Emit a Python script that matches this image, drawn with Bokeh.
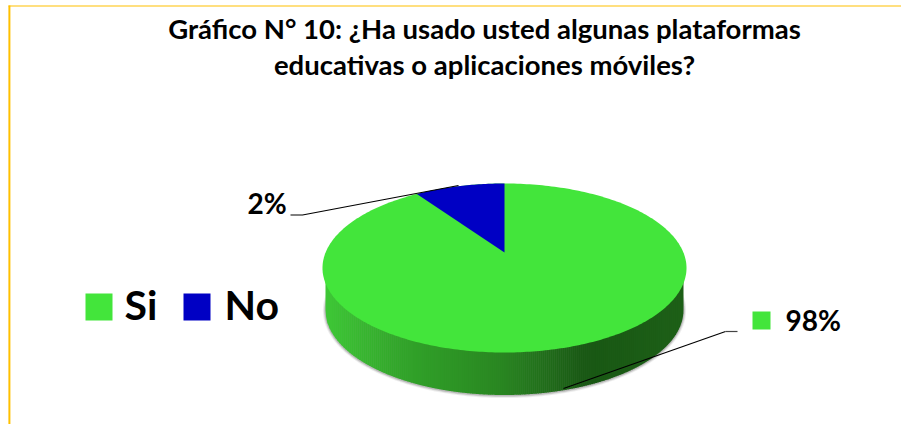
import numpy as np
from bokeh.plotting import figure
from bokeh.models import Range1d
from bokeh.core.properties import value
from bokeh.embed import file_html
from bokeh.resources import INLINE

categories = ["Si", "No"]
label_values = [98, 2]
drawn_shares = [92, 8]          # the sector as it is drawn in the picture
title_lines = ["Gráfico N° 10: ¿Ha usado usted algunas plataformas",
               "educativas o aplicaciones móviles?"]
colors = ["#43E53B", "#0000C4"]
FONT = value("Lato")

W, H = 901, 424
p = figure(width=W, height=H, x_range=Range1d(0, W), y_range=Range1d(H, 0),
           output_backend="svg", toolbar_location=None, min_border=0,
           margin=(0, 0, 0, 0))
p.axis.visible = False
p.grid.visible = False
p.outline_line_color = None
p.background_fill_color = "white"

# page frame
p.line([8.9, 8.9], [5, H], line_color="#FFC000", line_width=2)
p.line([8, W], [5.5, 5.5], line_color="#FFC000", line_width=1.2)

# pie geometry
cx, cy, rx, ry = 504, 267.5, 182, 84.5
bcy, brx, bry = 309.5, 179, 85
apex_y = 252

def ell(cx_, cy_, rx_, ry_, t):
    return cx_ + rx_ * np.sin(t), cy_ - ry_ * np.cos(t)

T = np.linspace(0, 2 * np.pi, 361)

# soft shadow
for grow, a in [(2.6, 0.10), (1.6, 0.16), (0.8, 0.22)]:
    xs, ys = ell(cx, bcy + 0.5, brx + grow, bry + grow, T)
    p.patch(xs, ys, fill_color="#555555", fill_alpha=a, line_color=None)

# side wall: vertical colour bands
stops_x = [325, 400, 500, 583, 683]
stops_c = np.array([[62, 200, 54], [50, 165, 42], [42, 135, 34], [25, 88, 20], [30, 96, 24]])
edges = np.linspace(cx - brx, cx + brx, 181)
bx, by, bc = [], [], []
for a, b in zip(edges[:-1], edges[1:]):
    xx = np.linspace(a, b + 0.5, 5)
    xx = np.clip(xx, cx - brx, cx + brx)
    yy = bcy + bry * np.sqrt(np.clip(1 - ((xx - cx) / brx) ** 2, 0, 1))
    bx.append(list(xx) + [xx[-1], xx[0]])
    by.append(list(yy) + [cy, cy])
    m = (a + b) / 2
    rgb = [int(np.interp(m, stops_x, stops_c[:, k])) for k in range(3)]
    bc.append("#%02x%02x%02x" % tuple(rgb))
p.patches(bx, by, fill_color=bc, line_color=None)

# top face
xs, ys = ell(cx, cy, rx, ry, T)
p.patch(xs, ys, fill_color=colors[0], line_color=None)

# blue sector, ending at 12 o'clock and running counter-clockwise by its share
end = 2 * np.pi
start = end - drawn_shares[1] / sum(drawn_shares) * 2 * np.pi
arc = np.linspace(start, end, 40)
ax, ay = ell(cx, cy, rx, ry, arc)
p.patch(np.r_[cx, ax], np.r_[apex_y, ay], fill_color=colors[1], line_color=None)

# leader lines
p.line([290, 302, 458], [214.5, 214.5, 185], line_color="black", line_width=1.2)
p.line([563, 725], [388, 331], line_color="black", line_width=1.2)
p.line([725, 737], [331, 331], line_color="#444444", line_width=1.2)

# title
for t, yy in zip(title_lines, [27.5, 63.5]):
    p.text([484], [yy], text=[t], text_font=FONT, text_font_style="bold",
           text_font_size="27.5px", text_color="black", text_align="center",
           text_baseline="alphabetic")

# data labels
p.text([247], [202], text=[f"{label_values[1]}%"], text_font=FONT, text_font_style="bold",
       text_font_size="28px", text_color="black", text_baseline="alphabetic")
p.text([785], [319], text=[f"{label_values[0]}%"], text_font=FONT, text_font_style="bold",
       text_font_size="28px", text_color="black", text_baseline="alphabetic")
p.quad(left=[752], right=[770], top=[311], bottom=[329], fill_color=colors[0], line_color=None)

# legend
p.quad(left=[85, 183], right=[112, 210], top=[293, 293], bottom=[320, 320],
       fill_color=colors, line_color=None)
p.text([124, 224], [304, 304], text=categories, text_font=FONT, text_font_style="bold",
       text_font_size="41px", text_color="black", text_baseline="alphabetic")

open("out.html", "w").write(file_html(p, INLINE))
